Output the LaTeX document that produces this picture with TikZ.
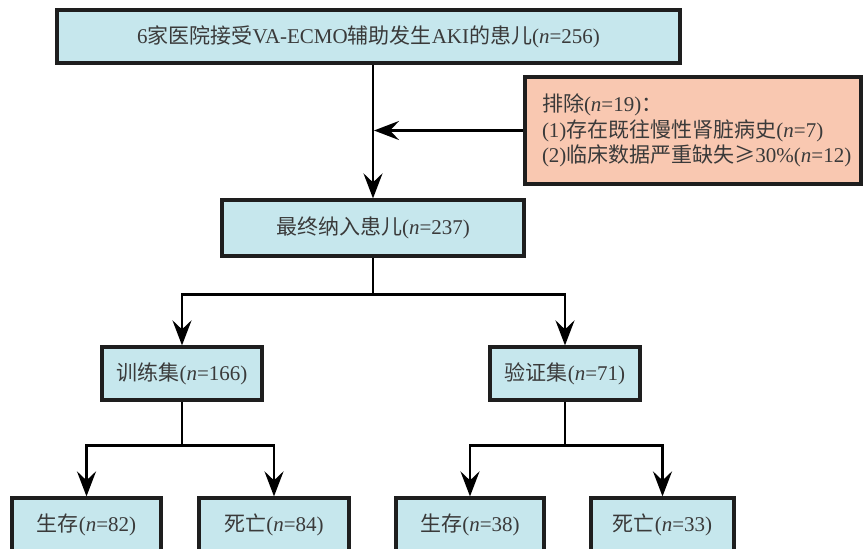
\documentclass[tikz,border=0pt]{standalone}
\usepackage{fontspec}
\setmainfont{Liberation Serif}
\newfontfamily\cjk{Noto Sans CJK SC}
\usetikzlibrary{arrows.meta}
\definecolor{boxblue}{HTML}{C6E7ED}
\definecolor{salmon}{HTML}{F9C8B1}
\definecolor{txtgray}{HTML}{3A3A3A}
\definecolor{edgec}{HTML}{1E1E1E}
\tikzset{
  box/.style={draw=edgec, line width=3.2pt, fill=boxblue, inner sep=0pt,
    text=txtgray, font=\fontsize{21}{25}\selectfont},
  exbox/.style={box, fill=salmon, align=left, inner xsep=17pt,
    font=\fontsize{21}{25.5}\selectfont},
  conn/.style={draw=black, line width=2.8pt},
  arr/.style={conn, -{Stealth[length=25pt,width=19pt,inset=9pt]}}
}
\newcommand{\nn}{\textit{n}}
\begin{document}
\begin{tikzpicture}[x=1pt,y=-1pt]
\clip (0,0) rectangle (863,549);
\fill[white] (0,0) rectangle (863,549);

\node[box, minimum width=623pt, minimum height=53pt] (top) at (368.5,36.5)
  {6{\cjk 家医院接受}VA-ECMO{\cjk 辅助发生}AKI{\cjk 的患儿}(\nn=256)};
\node[exbox, minimum width=336pt, minimum height=107pt, text width=302pt] (excl) at (693,130.5)
  {{\cjk 排除}(\nn=19){\cjk ：}\\
   (1){\cjk 存在既往慢性肾脏病史}(\nn=7)\\
   (2){\cjk 临床数据严重缺失≥}30\%(\nn=12)};
\node[box, minimum width=302pt, minimum height=56pt] (sel) at (373,228)
  {{\cjk 最终纳入患儿}(\nn=237)};
\node[box, minimum width=160pt, minimum height=53pt] (train) at (182,373.5)
  {{\cjk 训练集}(\nn=166)};
\node[box, minimum width=150pt, minimum height=53pt] (valid) at (565,373.5)
  {{\cjk 验证集}(\nn=71)};
\node[box, minimum width=149pt, minimum height=54pt] (ts) at (86.5,525)
  {{\cjk 生存}(\nn=82)};
\node[box, minimum width=150pt, minimum height=54pt] (td) at (274,525)
  {{\cjk 死亡}(\nn=84)};
\node[box, minimum width=148pt, minimum height=54pt] (vs) at (470,525)
  {{\cjk 生存}(\nn=38)};
\node[box, minimum width=143pt, minimum height=54pt] (vd) at (662.5,525)
  {{\cjk 死亡}(\nn=33)};

% main flow
\draw[arr] (top.south -| sel.north) -- (sel.north);
\draw[arr] (excl.west) -- ([xshift=1pt]sel.north |- excl.west);

% split into training / validation
\coordinate (s1) at ([yshift=-37pt]sel.south);
\draw[conn] (sel.south) -- (s1);
\draw[arr] (s1) -| (train.north);
\draw[arr] (s1) -| (valid.north);

% training split
\coordinate (s2) at ([yshift=-44pt]train.south);
\draw[conn] (train.south) -- (s2);
\draw[arr] (s2) -| (ts.north);
\draw[arr] (s2) -| (td.north);

% validation split
\coordinate (s3) at ([yshift=-44pt]valid.south);
\draw[conn] (valid.south) -- (s3);
\draw[arr] (s3) -| (vs.north);
\draw[arr] (s3) -| (vd.north);
\end{tikzpicture}
\end{document}
